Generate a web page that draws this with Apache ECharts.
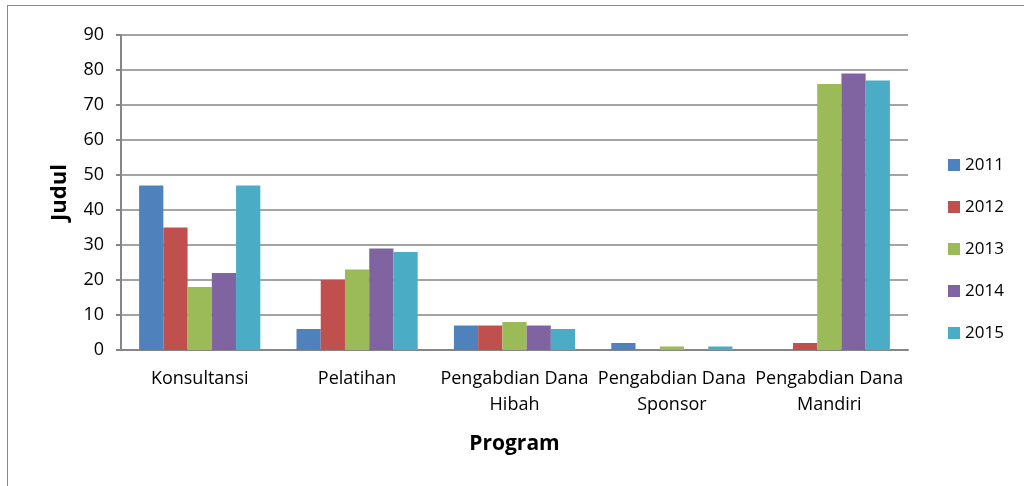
<!DOCTYPE html>
<html>
<head>
<meta charset="utf-8">
<script src="https://cdn.jsdelivr.net/npm/echarts@6/dist/echarts.min.js"></script>
<style>
  html, body { margin: 0; padding: 0; background: #fff; }
  #frame {
    position: absolute; left: 7px; top: 5px; width: 1030px; height: 500px;
    border: 1px solid #8a8a8a; box-sizing: border-box;
  }
  #chart { position: absolute; left: 0; top: 0; width: 1024px; height: 486px; }
</style>
</head>
<body>
<div id="frame"></div>
<div id="chart"></div>
<script>
  // kategori program
  const programs = ['Konsultansi', 'Pelatihan', 'Pengabdian Dana\nHibah', 'Pengabdian Dana\nSponsor', 'Pengabdian Dana\nMandiri']
  const years = ['2011', '2012', '2013', '2014', '2015']
  // jumlah judul per tahun
  const v2011 = [47, 6, 7, 2, 0]
  const v2012 = [35, 20, 7, 0, 2]
  const v2013 = [18, 23, 8, 1, 76]
  const v2014 = [22, 29, 7, 0, 79]
  const v2015 = [47, 28, 6, 1, 77]
  const yTicks = [0, 10, 20, 30, 40, 50, 60, 70, 80, 90]

  const colors = ['#4F81BD', '#C0504D', '#9BBB59', '#8064A2', '#4BACC6']
  const values = [v2011, v2012, v2013, v2014, v2015]
  const font = '"Open Sans", "Liberation Sans", sans-serif'

  const chart = echarts.init(document.getElementById('chart'))
  chart.setOption({
    animation: false,
    color: colors,
    grid: { left: 121, right: 116, top: 35, bottom: 136 },
    legend: {
      orient: 'vertical',
      left: 948,
      top: 154,
      padding: 0,
      itemWidth: 12,
      itemHeight: 12,
      itemGap: 20,
      icon: 'rect',
      textStyle: { fontFamily: font, fontSize: 17, color: '#000', lineHeight: 22 },
      data: years
    },
    xAxis: {
      type: 'category',
      data: programs,
      name: 'Program',
      nameLocation: 'middle',
      nameGap: 84,
      nameTextStyle: { fontFamily: font, fontSize: 21, fontWeight: 'bold', color: '#000' },
      axisLine: { lineStyle: { color: '#868686', width: 2 } },
      axisTick: { show: false },
      axisLabel: { fontFamily: font, fontSize: 18, color: '#000', margin: 16, lineHeight: 26, interval: 0 }
    },
    yAxis: {
      type: 'value',
      min: yTicks[0],
      max: yTicks[yTicks.length - 1],
      interval: 10,
      name: 'Judul',
      nameLocation: 'middle',
      nameGap: 50,
      nameTextStyle: { fontFamily: font, fontSize: 22, fontWeight: 'bold', color: '#000' },
      axisLine: { show: true, lineStyle: { color: '#868686', width: 2 } },
      axisTick: { show: true, length: 5, lineStyle: { color: '#868686', width: 2 } },
      axisLabel: { fontFamily: font, fontSize: 18, color: '#000', margin: 17 },
      splitLine: { lineStyle: { color: '#868686', width: 1.5 } }
    },
    series: years.map((y, i) => ({
      name: y,
      type: 'bar',
      data: values[i],
      barGap: '0%',
      barCategoryGap: '23%'
    }))
  })
</script>
</body>
</html>
